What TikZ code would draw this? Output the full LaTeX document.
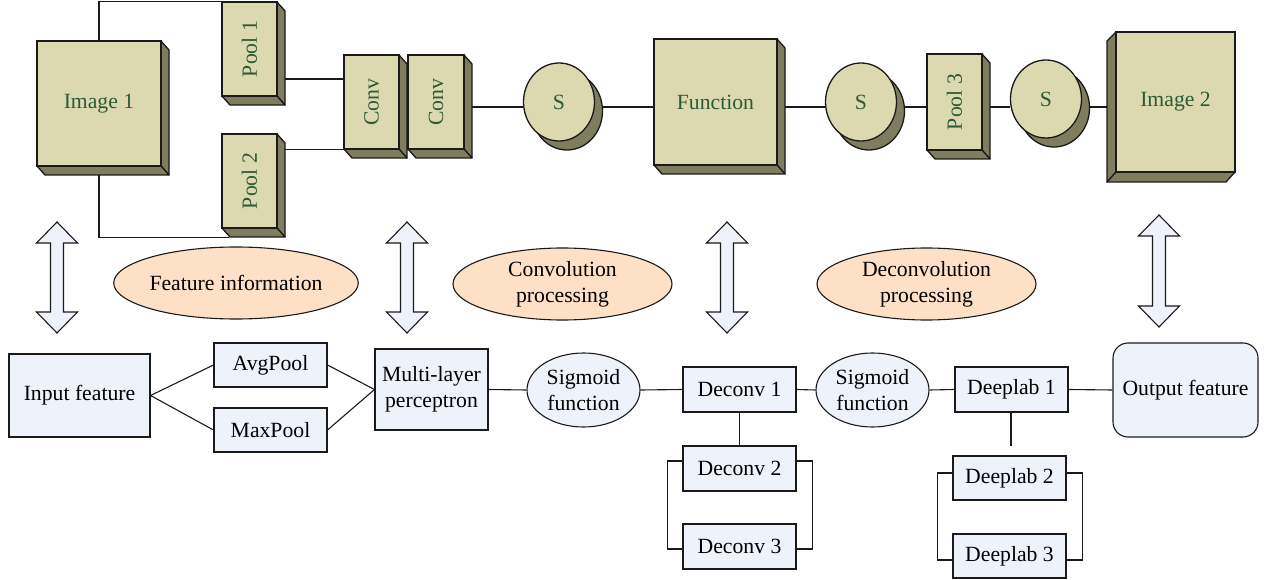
\documentclass[tikz,border=0pt]{standalone}
\usepackage{fontspec}
\setmainfont{Liberation Serif}
\usepackage{graphicx}
\usetikzlibrary{shapes.geometric,backgrounds,calc}
\definecolor{khaki}{HTML}{DCD9B0}
\definecolor{olivedk}{HTML}{807C5E}
\definecolor{tgreen}{HTML}{2D5A36}
\definecolor{lblue}{HTML}{EEF2FB}
\definecolor{peach}{HTML}{FDE0C6}
\definecolor{edge}{HTML}{1A1A1A}
\tikzset{
 base/.style={font=\fontsize{21.7}{26}\selectfont},
 front/.style={draw=edge, line width=1.3pt, fill=khaki, text=tgreen, inner sep=0pt, base},
 sideface/.style={draw=edge, line width=1.3pt, fill=olivedk, line join=round},
 sball/.style={ellipse, draw=edge, line width=1.3pt, fill=khaki, text=tgreen, minimum width=71pt, minimum height=78pt, inner sep=0pt, base},
 sshadow/.style={ellipse, draw=edge, line width=1.3pt, fill=olivedk, minimum width=71pt, minimum height=78pt, inner sep=0pt},
 bbox/.style={draw=edge, line width=1.1pt, fill=lblue, inner sep=0pt, align=center, base},
 smallbox/.style={bbox, minimum width=113pt, minimum height=45pt},
 sigm/.style={ellipse, draw=edge, line width=1.1pt, fill=lblue, inner sep=0pt, align=center, minimum width=113pt, minimum height=74pt, base},
 labell/.style={ellipse, draw=edge, line width=1.1pt, fill=peach, inner sep=0pt, align=center, minimum width=219pt, minimum height=72pt, base},
 conn/.style={draw=edge, line width=1.1pt},
 arrowsty/.style={draw=edge, line width=1.1pt, fill=lblue, line join=miter},
}
\newcommand\cubeR[6]{%
 \draw[sideface] (#4,#3) -- (#4+8,#3+9) -- (#4+8,#5+9) -- (#4,#5) -- cycle;
 \draw[sideface] (#2,#5) -- (#4,#5) -- (#4+8,#5+9) -- (#2+8,#5+9) -- cycle;
 \node[front, minimum width={#4-#2}, minimum height={#5-#3}] (#1) at ({(#2+#4)/2},{(#3+#5)/2}) {#6};
}
\newcommand\sball[4]{%
 \node[sshadow] at (#2+8,#3+9) {};
 \node[sball] (#1) at (#2,#3) {#4};
}
\newcommand\dblarrow[3]{%
 \draw[arrowsty] (#1,#2) -- ++(20.5,21) -- ++(-14,0) -- (#1+6.5,#3-21) -- ++(14,0) -- (#1,#3) -- ++(-20.5,-21) -- ++(14,0) -- (#1-6.5,#2+21) -- ++(-14,0) -- cycle;
}
\begin{document}
\begin{tikzpicture}[x=1pt,y=-1pt]
\useasboundingbox (0,0) rectangle (1267,580);
% ---- top row ----
\cubeR{img1}{37}{41}{161}{166}{Image 1}
\cubeR{pool1}{222}{2}{277}{96}{\rotatebox{90}{Pool 1}}
\cubeR{pool2}{222}{134}{277}{228}{\rotatebox{90}{Pool 2}}
\cubeR{conv1}{344}{55}{399}{149}{\rotatebox{90}{Conv}}
\cubeR{conv2}{408}{55}{464}{149}{\rotatebox{90}{Conv}}
\sball{s1}{559}{102}{S}
\cubeR{func}{654}{39}{777}{165}{Function}
\sball{s2}{861}{102}{S}
\cubeR{pool3}{927}{54}{982}{150}{\rotatebox{90}{Pool 3}}
\sball{s3}{1046}{99}{S}
\draw[sideface] (1116,32) -- (1107,41) -- (1107,182) -- (1116,172) -- cycle;
\draw[sideface] (1116,172) -- (1235,172) -- (1226,182) -- (1107,182) -- cycle;
\node[front, minimum width=119pt, minimum height=140pt] (img2) at (1175.5,102) {Image 2};
% ---- double arrows ----
\dblarrow{57}{222}{333}
\dblarrow{407}{222}{333}
\dblarrow{727}{222}{333}
\dblarrow{1159}{215}{327}
% ---- labels ----
\node[labell] (fi) at (236,283) {Feature information};
\node[labell] (cp) at (562.5,284) {Convolution\\processing};
\node[labell] (dp) at (926.5,284) {Deconvolution\\processing};
% ---- bottom row ----
\node[bbox, minimum width=141pt, minimum height=83pt] (inp) at (79.5,395.5) {Input feature};
\node[bbox, minimum width=113pt, minimum height=44pt] (avg) at (270.5,365) {AvgPool};
\node[bbox, minimum width=113pt, minimum height=44pt] (max) at (270.5,430) {MaxPool};
\node[bbox, minimum width=113pt, minimum height=81pt] (mlp) at (431.5,389.5) {Multi-layer\\perceptron};
\node[sigm] (sig1) at (583.5,390) {Sigmoid\\function};
\node[smallbox] (dc1) at (739.5,389.5) {Deconv 1};
\node[sigm] (sig2) at (872.5,390) {Sigmoid\\function};
\node[smallbox] (dl1) at (1011.5,389.5) {Deeplab 1};
\node[bbox, rounded corners=15pt, minimum width=145pt, minimum height=94pt] (out) at (1185.5,390) {Output feature};
\node[smallbox] (dc2) at (739.5,468.5) {Deconv 2};
\node[smallbox] (dc3) at (739.5,546.5) {Deconv 3};
\node[smallbox, minimum height=44pt] (dl2) at (1009.5,478) {Deeplab 2};
\node[smallbox, minimum height=44pt] (dl3) at (1009.5,556) {Deeplab 3};
\coordinate (yl) at (0,107);
\coordinate (dlend) at (1011,446);
% ---- connectors ----
\begin{pgfonlayer}{background}
\fill[white] (0,0) rectangle (1267,580);
\draw[conn] (img1.north) |- (pool1.north west);
\draw[conn] (img1.south) |- ($(pool2.south west)+(8,9)$);
\draw[conn] ($(pool1.east)+(0,30)$) coordinate (p1o) -- (p1o -| conv1.west);
\draw[conn] (conv1.south west) -- (conv1.south west -| pool2.east);
\draw[conn] (conv2.east |- yl) -- (s1.west |- yl);
\draw[conn] (s1.east |- yl) -- (func.west |- yl);
\draw[conn] (func.east |- yl) -- (s2.west |- yl);
\draw[conn] (s2.east |- yl) -- (pool3.west |- yl);
\draw[conn] (pool3.east |- yl) -- (s3.west |- yl);
\draw[conn] (s3.east |- yl) -- (img2.west |- yl);
\draw[conn] (inp.east) -- (avg.west);
\draw[conn] (inp.east) -- (max.west);
\draw[conn] (avg.east) -- (mlp.west);
\draw[conn] (max.east) -- (mlp.west);
\draw[conn] (mlp.east) -- (sig1.west);
\draw[conn] (sig1.east) -- (dc1.west);
\draw[conn] (dc1.east) -- (sig2.west);
\draw[conn] (sig2.east) -- (dl1.west);
\draw[conn] (dl1.east) -- (out.west);
\draw[conn] (dc1.south) -- (dc2.north);
\draw[conn] ($(dc2.west)+(0,-7.5)$) -- ++(-15,0) |- ($(dc3.west)+(0,2.5)$);
\draw[conn] ($(dc2.east)+(0,-7.5)$) -- ++(16,0) |- ($(dc3.east)+(0,2.5)$);
\draw[conn] (dl1.south -| dlend) -- (dlend);
\draw[conn] ($(dl2.west)+(0,-5)$) -- ++(-15,0) |- ($(dl3.west)+(0,4)$);
\draw[conn] ($(dl2.east)+(0,-5)$) -- ++(16,0) |- ($(dl3.east)+(0,4)$);
\end{pgfonlayer}
\end{tikzpicture}
\end{document}
